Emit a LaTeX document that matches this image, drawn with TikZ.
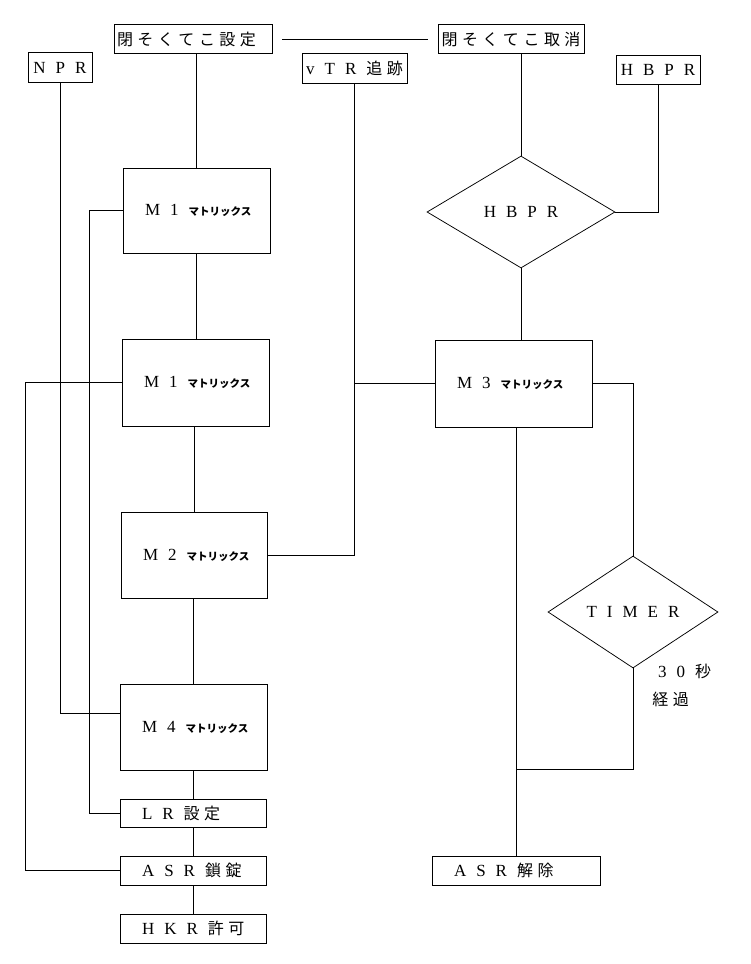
\documentclass[tikz,border=0pt]{standalone}
\usepackage{fontspec}
\setmainfont{Liberation Serif}
\newfontfamily\cjk{Noto Sans CJK JP}
\usetikzlibrary{shapes.geometric}
\newcommand\jp[1]{{\cjk\fontsize{16}{19}\selectfont #1}}
\newcommand\lsq{\nobreak\hskip 10pt\relax}
\newcommand\csq{\nobreak\hskip 4.5pt\relax}
\newcommand\ktx{{\cjk\bfseries\fontsize{10.5}{12}\selectfont マトリックス}}
\begin{document}
\begin{tikzpicture}[x=1pt,y=-1pt,line width=0.75pt,
  every node/.style={font=\fontsize{17}{20}\selectfont},
  cbox/.style={draw,inner sep=0pt,minimum height=29pt,minimum width=#1},
  lbox/.style={draw,inner xsep=22pt,inner ysep=0pt,text width=#1,align=left},
  dec/.style={draw,diamond,inner sep=0pt}]
\fill[white] (0,0) rectangle (750,964);
\useasboundingbox (0,0) rectangle (750,964);
% top row
\node[draw,inner ysep=0pt,inner xsep=3pt,text width=152pt,align=left,minimum height=29pt] (setB) at (193,39) {\jp{閉\csq そ\csq く\csq て\csq こ\csq 設\csq 定}};
\node[cbox=146pt] (canB) at (511,39) {\jp{閉\csq そ\csq く\csq て\csq こ\csq 取\csq 消}};
\node[cbox=64pt,minimum height=30pt] (npr) at (60,67.5) {N\lsq P\lsq R};
\node[cbox=105pt,minimum height=30pt] (vtr) at (354.5,68) {v\lsq T\lsq R\lsq\jp{追\csq 跡}};
\node[cbox=84pt] (hbB) at (658,69.5) {H\lsq B\lsq P\lsq R};
% left column
\node[lbox=103pt,minimum height=85pt] (m1a) at (196.5,210.5) {M\lsq 1\lsq\ktx};
\node[lbox=103pt,minimum height=87pt] (m1b) at (195.5,382.5) {M\lsq 1\lsq\ktx};
\node[lbox=102pt,minimum height=86pt] (m2) at (194,555) {M\lsq 2\lsq\ktx};
\node[lbox=103pt,minimum height=86pt] (m4) at (193.5,727) {M\lsq 4\lsq\ktx};
\node[lbox=102pt,minimum height=28pt] (lr) at (193,813) {L\lsq R\lsq\jp{設\csq 定}};
\node[lbox=102pt,minimum height=29pt] (asrl) at (193,870.5) {A\lsq S\lsq R\lsq\jp{鎖\csq 錠}};
\node[lbox=102pt,minimum height=29pt] (hkr) at (193,928.5) {H\lsq K\lsq R\lsq\jp{許\csq 可}};
% right column
\node[dec,minimum width=188pt,minimum height=112pt] (hbD) at (521,212) {H\lsq B\lsq P\lsq R};
\node[lbox=113pt,minimum height=87pt] (m3) at (513.5,383.5) {M\lsq 3\lsq\ktx};
\node[dec,minimum width=170pt,minimum height=112pt] (timer) at (633,612) {T\lsq I\lsq M\lsq E\lsq R};
\node (t30) at (684.5,671) {3\lsq 0\lsq\jp{秒}};
\node (kk) at (670.5,699) {\jp{経\csq 過}};
\node[lbox=124pt,minimum height=29pt] (asru) at (516,870.5) {A\lsq S\lsq R\lsq\jp{解\csq 除}};
\coordinate (tj) at (516,769);
% connectors
\draw ([xshift=10pt]setB.east) -- ([xshift=-10pt]canB.west);
\draw (m1a.north |- setB.south) -- (m1a.north);
\draw (m1a.south) -- (m1a.south |- m1b.north);
\draw (m2.north |- m1b.south) -- (m2.north);
\draw (m4.north |- m2.south) -- (m4.north);
\draw (m4.south) -- (m4.south |- lr.north);
\draw (lr.south) -- (asrl.north);
\draw (asrl.south) -- (hkr.north);
\draw (npr.south) |- ([yshift=14pt]m4.west);
\draw (m1a.west) -- ++(-33,0) |- (lr.west);
\draw (m1b.west) -- ++(-96,0) |- (asrl.west);
\draw (vtr.south) |- (m2.east);
\draw (m3.west) -- (m3.west -| vtr.south);
\draw (hbD.north |- canB.south) -- (hbD.north);
\draw (hbB.south) |- (hbD.east);
\draw (hbD.south) -- (hbD.south |- m3.north);
\draw (m3.east) -| (timer.north);
\draw (asru.north |- m3.south) -- (asru.north);
\draw (timer.south) |- (tj);
\end{tikzpicture}
\end{document}
